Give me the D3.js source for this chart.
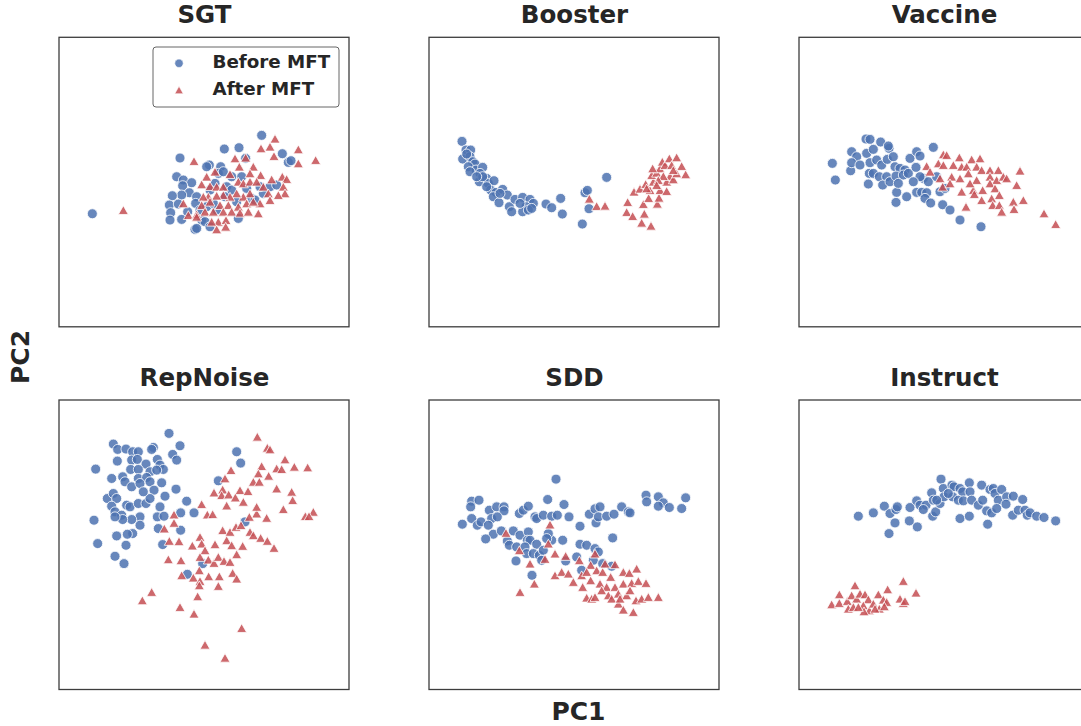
<!DOCTYPE html>
<html><head><meta charset="utf-8">
<script src="https://cdn.jsdelivr.net/npm/d3@7"></script>
<style>body{margin:0;background:#fff}svg{display:block}</style>
</head><body><svg id="c" width="1081" height="726"></svg>
<script>
// Panel titles
const titles = ["SGT","Booster","Vaccine","RepNoise","SDD","Instruct"];
const legendLabels = ["Before MFT","After MFT"];
// PCA coordinates (arbitrary units, PC2 sign flipped)
const sgtBefore = [[127,551],[390,384],[523,357],[567,353],[635,316],[587,385],[697,371],[715,397],[723,392],[478,405],[470,410],[512,410],[380,440],[400,450],[425,458],[398,467],[418,488],[395,495],[367,497],[358,525],[385,522],[362,548],[360,570],[395,568],[413,545],[440,500],[437,520],[450,540],[455,570],[465,575],[435,598],[440,595],[480,590],[500,540],[505,430],[520,425],[530,470],[525,500],[545,480],[560,515],[565,565],[575,440],[590,475],[605,505],[615,510],[640,490],[660,470],[680,465],[630,470],[545,440],[495,460],[480,480],[470,530],[490,520]];
const sgtAfter = [[220,540],[432,393],[555,385],[587,383],[675,326],[660,350],[633,355],[745,358],[797,390],[672,378],[745,400],[568,410],[610,410],[495,425],[470,440],[540,432],[600,430],[632,435],[697,440],[710,447],[665,448],[455,463],[480,468],[500,470],[520,470],[565,455],[580,460],[600,455],[620,455],[640,470],[700,470],[705,490],[685,495],[655,490],[660,510],[630,520],[600,490],[580,500],[560,490],[540,500],[520,495],[500,497],[475,500],[460,500],[455,525],[480,515],[510,525],[535,525],[565,530],[590,520],[610,515],[400,520],[415,555],[440,553],[465,545],[490,545],[520,545],[545,545],[570,548],[595,545],[625,550],[505,575],[528,570],[485,575],[500,598],[527,590],[440,560]];
const boosterBefore = [[126,334],[138,360],[152,360],[128,387],[150,380],[158,395],[165,402],[145,410],[168,420],[188,412],[180,430],[150,425],[178,455],[200,445],[205,460],[222,452],[212,480],[228,487],[220,500],[248,478],[262,495],[237,518],[268,530],[275,545],[285,508],[308,502],[330,508],[340,520],[318,530],[308,545],[325,540],[378,522],[395,533],[422,505],[427,552],[487,582],[495,488],[502,481],[507,536],[560,442],[188,440],[170,440],[140,372],[200,470],[240,490],[300,520],[335,535]];
const boosterAfter = [[508,506],[530,528],[555,527],[623,516],[620,546],[638,558],[665,578],[693,587],[673,551],[670,522],[686,504],[712,521],[717,503],[642,485],[660,476],[677,462],[690,480],[700,455],[720,480],[740,483],[695,435],[710,428],[720,415],[727,395],[735,405],[748,385],[755,405],[770,382],[785,408],[797,433],[750,438],[740,455],[760,448],[770,430],[730,438],[715,450],[698,415],[760,420],[710,465],[680,475]];
const vaccineBefore = [[127,400],[136,450],[182,422],[185,365],[200,380],[185,398],[210,405],[228,327],[240,328],[230,370],[250,358],[272,336],[297,355],[295,348],[240,398],[260,390],[275,405],[292,388],[310,380],[238,430],[250,430],[268,440],[290,440],[235,462],[278,465],[300,455],[315,410],[330,415],[345,420],[318,438],[340,435],[355,430],[378,412],[360,385],[380,365],[390,378],[430,352],[320,487],[350,500],[318,517],[380,487],[395,487],[410,488],[405,505],[422,519],[458,524],[480,540],[510,570],[573,590],[400,445],[415,455],[440,440],[450,485],[465,475],[390,440],[325,460],[370,455]];
const vaccineAfter = [[410,408],[420,425],[445,400],[460,373],[470,375],[460,405],[490,405],[508,382],[545,388],[570,385],[515,410],[530,410],[560,410],[575,420],[600,420],[625,420],[690,422],[450,445],[458,470],[485,440],[510,445],[535,430],[560,450],[600,440],[620,450],[640,440],[650,445],[680,465],[515,485],[550,480],[578,480],[600,460],[615,475],[628,495],[553,492],[575,510],[605,505],[608,525],[628,525],[635,545],[670,515],[672,537],[700,510],[528,530],[762,550],[797,582],[480,460],[540,460]];
const repnoiseBefore = [[357,130],[190,162],[203,178],[228,177],[310,172],[305,178],[390,167],[368,193],[380,210],[248,185],[265,185],[202,213],[245,210],[262,208],[288,222],[322,208],[330,225],[340,238],[137,237],[185,265],[218,260],[242,238],[265,238],[300,245],[320,240],[225,275],[245,290],[265,265],[290,262],[270,280],[300,275],[335,278],[312,300],[378,297],[345,318],[172,325],[190,310],[200,325],[230,345],[185,348],[195,365],[215,375],[240,350],[265,340],[288,340],[300,325],[280,305],[270,380],[245,388],[218,388],[195,380],[132,390],[270,405],[248,430],[232,432],[200,437],[143,460],[228,465],[195,498],[222,520],[330,350],[322,380],[342,378],[392,368],[432,368],[410,333],[392,420],[325,415],[338,463],[505,272],[560,185],[572,219],[412,552],[458,520],[585,395]];
const repnoiseAfter = [[622,140],[652,173],[660,178],[705,208],[680,235],[695,237],[733,230],[773,232],[543,240],[635,228],[625,250],[656,257],[525,265],[610,275],[628,275],[570,300],[594,303],[492,307],[518,298],[515,315],[536,313],[556,322],[580,335],[680,295],[725,305],[728,330],[530,346],[455,342],[372,373],[372,398],[472,373],[488,372],[620,370],[598,380],[650,383],[700,357],[790,365],[766,378],[777,378],[343,415],[518,420],[540,425],[558,410],[573,405],[600,425],[610,435],[632,443],[652,452],[672,473],[358,452],[387,453],[450,440],[455,460],[427,466],[495,462],[530,450],[545,465],[578,467],[465,480],[450,500],[475,508],[492,518],[505,500],[522,512],[540,515],[560,492],[355,507],[393,510],[448,540],[395,555],[430,562],[450,572],[476,558],[508,558],[548,548],[560,565],[448,585],[505,587],[305,605],[277,630],[443,618],[390,650],[432,670],[575,713],[465,763],[525,802],[620,350]];
const sddBefore = [[408,267],[155,333],[177,330],[152,350],[208,360],[230,350],[252,350],[252,362],[155,385],[172,405],[183,395],[127,402],[215,385],[232,380],[205,405],[220,432],[197,446],[244,422],[262,452],[268,465],[280,422],[300,435],[325,425],[298,370],[310,360],[325,348],[345,380],[350,385],[370,375],[383,328],[432,343],[395,378],[412,375],[447,380],[322,450],[330,450],[350,462],[290,470],[315,470],[320,490],[340,490],[358,495],[365,510],[288,512],[336,555],[370,480],[395,450],[385,430],[380,445],[428,450],[480,408],[480,462],[500,465],[525,475],[535,485],[520,510],[470,500],[437,512],[548,520],[578,443],[508,372],[525,356],[540,350],[528,398],[535,380],[560,378],[582,372],[605,350],[625,365],[630,368],[678,315],[680,335],[715,320],[730,338],[715,348],[748,352],[785,355],[797,323],[485,540],[575,528]];
const sddAfter = [[390,403],[258,428],[298,480],[330,520],[385,460],[375,506],[405,490],[437,497],[343,580],[300,605],[405,555],[425,545],[445,550],[460,575],[478,510],[488,590],[512,524],[525,490],[530,540],[548,545],[555,520],[585,522],[572,560],[610,545],[628,548],[650,535],[485,555],[500,545],[512,570],[540,580],[560,590],[585,590],[610,580],[635,578],[655,572],[678,578],[500,622],[515,625],[525,620],[545,600],[565,615],[595,610],[620,615],[648,630],[665,625],[685,620],[715,620],[595,640],[610,658],[640,665],[630,600],[575,625],[600,625]];
const instructBefore = [[205,378],[250,368],[283,348],[300,370],[318,358],[322,350],[315,398],[297,430],[360,352],[358,392],[382,410],[380,332],[390,345],[408,345],[400,358],[425,308],[430,330],[428,378],[437,365],[450,340],[453,267],[460,295],[462,320],[486,285],[492,290],[510,295],[518,305],[538,278],[540,305],[488,320],[505,330],[520,332],[545,330],[565,345],[575,285],[578,330],[600,298],[610,295],[615,310],[635,298],[625,330],[650,320],[670,318],[698,328],[648,342],[590,362],[605,368],[620,355],[510,385],[538,378],[593,402],[668,375],[685,360],[705,360],[712,375],[720,368],[740,378],[762,382],[797,392],[475,310],[440,330]];
const instructAfter = [[125,642],[148,612],[148,638],[172,632],[185,615],[195,585],[175,655],[200,625],[210,610],[225,612],[235,627],[220,645],[238,660],[222,663],[250,640],[265,612],[268,655],[280,628],[293,597],[290,635],[283,648],[340,572],[378,607],[330,625],[340,638],[345,632],[190,650],[205,650],[255,655]];

const beforeSets = [sgtBefore, boosterBefore, vaccineBefore, repnoiseBefore, sddBefore, instructBefore];
const afterSets = [sgtAfter, boosterAfter, vaccineAfter, repnoiseAfter, sddAfter, instructAfter];
const xDomain = [27, 897];
const yDomains = [[22, 890], [30, 897]];

const svg = d3.select("#c");
const blue = "#4c72b0", red = "#c44e52";
const colX = [59, 429, 799], rowY = [37.3, 400], W = 290, H = 289.5;
const FONT = "DejaVu Sans";

function tri(w, h){ return `M0,${-h/2}L${w/2},${h/2}L${-w/2},${h/2}Z`; }

titles.forEach((t, i) => {
  const c = i % 3, r = Math.floor(i / 3);
  const g = svg.append("g").attr("transform", `translate(${colX[c]},${rowY[r]})`);
  const x = d3.scaleLinear().domain(xDomain).range([0, W]);
  const y = d3.scaleLinear().domain(yDomains[r]).range([0, H]);
  g.append("defs").append("clipPath").attr("id", "cp" + i)
    .append("rect").attr("width", W).attr("height", H);
  const pts = g.append("g").attr("clip-path", `url(#cp${i})`);
  pts.selectAll("circle").data(beforeSets[i]).join("circle")
    .attr("cx", d => x(d[0])).attr("cy", d => y(d[1])).attr("r", 5)
    .attr("fill", blue).attr("fill-opacity", 0.85)
    .attr("stroke", "#fff").attr("stroke-width", 0.8);
  pts.selectAll("path").data(afterSets[i]).join("path")
    .attr("d", tri(10, 8.8))
    .attr("transform", d => `translate(${x(d[0])},${y(d[1])})`)
    .attr("fill", red).attr("fill-opacity", 0.85)
    .attr("stroke", "#fff").attr("stroke-width", 0.8);
  g.append("rect").attr("width", W).attr("height", H)
    .attr("fill", "none").attr("stroke", "#3d3d3d").attr("stroke-width", 1.3);
  svg.append("text").attr("x", colX[c] + W / 2 + 0.5).attr("y", rowY[r] - 14.5)
    .attr("text-anchor", "middle").attr("font-family", FONT)
    .attr("font-weight", "bold").attr("font-size", 24.5).attr("fill", "#262626").text(t);
});

// Legend in first panel
const lg = svg.append("g");
lg.append("rect").attr("x", 153).attr("y", 47).attr("width", 186).attr("height", 60).attr("rx", 3)
  .attr("fill", "#fff").attr("fill-opacity", 0.9).attr("stroke", "#555").attr("stroke-width", 0.9);
lg.append("circle").attr("cx", 179).attr("cy", 63.3).attr("r", 4.2).attr("fill", blue).attr("fill-opacity", 0.85)
  .attr("stroke", "#fff").attr("stroke-width", 0.6);
lg.append("path").attr("d", tri(8.5, 7.5)).attr("transform", "translate(179,90)")
  .attr("fill", red).attr("fill-opacity", 0.85).attr("stroke", "#fff").attr("stroke-width", 0.6);
legendLabels.forEach((l, i) => {
  lg.append("text").attr("x", 212.5).attr("y", 68.3 + i * 27)
    .attr("font-family", FONT).attr("font-weight", "bold").attr("font-size", 18.3)
    .attr("fill", "#262626").text(l);
});

// Axis labels
svg.append("text").attr("x", 578.5).attr("y", 720).attr("text-anchor", "middle")
  .attr("font-family", FONT).attr("font-weight", "bold").attr("font-size", 25).attr("fill", "#262626").text("PC1");
svg.append("text").attr("transform", "translate(28.5,357) rotate(-90)").attr("text-anchor", "middle")
  .attr("font-family", FONT).attr("font-weight", "bold").attr("font-size", 25).attr("fill", "#262626").text("PC2");
</script></body></html>
